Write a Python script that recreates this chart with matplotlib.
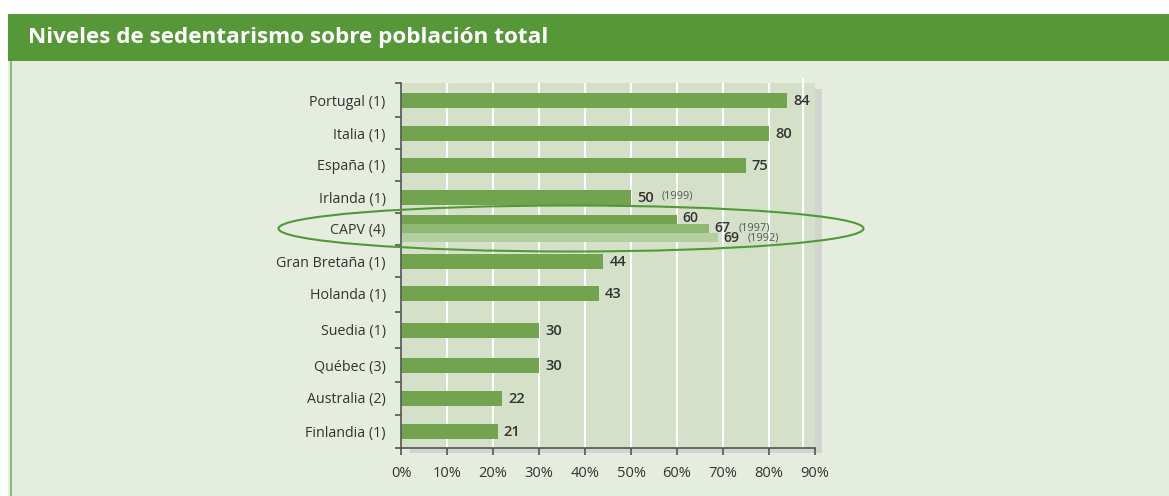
import matplotlib
matplotlib.use('Agg')
import matplotlib.pyplot as plt
from matplotlib.patches import Ellipse, Rectangle
import numpy as np

plt.rcParams['font.family'] = ['Open Sans', 'DejaVu Sans']

# ---------------- data ----------------
categories = ['Portugal (1)', 'Italia (1)', 'España (1)', 'Irlanda (1)', 'CAPV (4)',
              'Gran Bretaña (1)', 'Holanda (1)', 'Suedia (1)', 'Québec (3)',
              'Australia (2)', 'Finlandia (1)']
values = [84, 80, 75, 50, None, 44, 43, 30, 30, 22, 21]
notes = ['', '', '', '(1999)', '', '', '', '', '', '', '']
capv_values = [60, 67, 69]
capv_notes = ['', '(1997)', '(1992)']
xticks = [0, 10, 20, 30, 40, 50, 60, 70, 80, 90]
xticklabels = ['0%', '10%', '20%', '30%', '40%', '50%', '60%', '70%', '80%', '90%']

# ---------------- layout (pixel-based vertical scale) ----------------
W, H = 1169, 496
centers = [100, 133, 165, 197, 228.5, 261, 293, 330, 365, 398, 431]
y_top, y_bot = 83, 448
ax_left_px, ax_right_px = 401, 815

c_header = '#569838'
c_panel = '#e5eddf'
c_plot = '#d4e1c8'
c_bar = '#72a44f'
c_bar2 = '#90b872'
c_bar3 = '#b3cea0'
c_text = '#333333'
c_note = '#555555'
c_spine = '#555555'

fig = plt.figure(figsize=(W / 100, H / 100), dpi=100)
fig.patch.set_facecolor('white')

def fx(px):
    return px / W

def fy(py):
    return 1 - py / H

# header band
fig.patches.append(Rectangle((fx(8), fy(61)), fx(W - 8), (61 - 14) / H,
                             transform=fig.transFigure, facecolor=c_header,
                             edgecolor='none', zorder=0))
# panel
fig.patches.append(Rectangle((fx(8), 0), fx(W - 8), fy(61),
                             transform=fig.transFigure, facecolor=c_panel,
                             edgecolor='none', zorder=0))
# left green border line of panel
fig.patches.append(Rectangle((fx(10), 0), fx(2), fy(61),
                             transform=fig.transFigure, facecolor='#8dbb72',
                             edgecolor='none', zorder=0))
# shadow
fig.patches.append(Rectangle((fx(410), fy(453)), fx(822 - 410), (453 - 89) / H,
                             transform=fig.transFigure, facecolor='#d2d4cf',
                             edgecolor='none', zorder=0))

fig.text(fx(28), fy(37.5), 'Niveles de sedentarismo sobre población total',
         color='white', fontsize=16.2, fontweight='bold', va='center', ha='left')

ax = fig.add_axes([fx(ax_left_px), fy(y_bot), fx(ax_right_px - ax_left_px),
                   (y_bot - y_top) / H])
ax.set_zorder(3)
ax.set_facecolor(c_plot)
ax.set_xlim(0, 90)
ax.set_ylim(y_bot, y_top)

# grid lines
for g in xticks[1:-1]:
    ax.axvline(g, color='white', lw=1.5, zorder=1)
ax.plot([87.3, 87.3], [y_bot, y_top - 4], color='white', lw=1.5, zorder=1,
        clip_on=False)

bar_h = 15
lab_kw = dict(ha='left', va='center', fontsize=10.5, fontweight='semibold', color=c_text)
note_kw = dict(ha='left', va='center', fontsize=7.8, color=c_note)
for i, (cat, v, n) in enumerate(zip(categories, values, notes)):
    yc = centers[i]
    if v is None:
        continue
    ax.barh(yc, v, height=bar_h, color=c_bar, zorder=2)
    ax.annotate(str(v), (v, yc), xytext=(6, -1), textcoords='offset pixels', **lab_kw)
    if n:
        ax.annotate(n, (v, yc), xytext=(31, 1), textcoords='offset pixels', **note_kw)

# CAPV group
ci = categories.index('CAPV (4)')
sub_offsets = [-9, 0, 9]
sub_colors = [c_bar, c_bar2, c_bar3]
lab_dy = [1, 1, -0.5]
capv_kw = dict(lab_kw, fontsize=10)
for v, n, off, col, dy in zip(capv_values, capv_notes, sub_offsets, sub_colors, lab_dy):
    yc = centers[ci] + off
    ax.barh(yc, v, height=9, color=col, zorder=2)
    ax.annotate(str(v), (v, yc), xytext=(5, dy), textcoords='offset pixels', **capv_kw)
    if n:
        ax.annotate(n, (v, yc), xytext=(29, dy), textcoords='offset pixels', **note_kw)

# ellipse highlight
ell = Ellipse(((571 - ax_left_px) / (ax_right_px - ax_left_px) * 90, centers[ci]),
              width=585 / (ax_right_px - ax_left_px) * 90, height=46,
              facecolor='none', edgecolor='#4f9a36', lw=1.5, zorder=5, clip_on=False)
ax.add_patch(ell)

# axes styling
for s in ['top', 'right']:
    ax.spines[s].set_visible(False)
for s in ['left', 'bottom']:
    ax.spines[s].set_color(c_spine)
    ax.spines[s].set_linewidth(1.2)

ax.set_xticks(xticks)
ax.set_xticklabels(xticklabels)
ax.tick_params(axis='x', direction='out', length=5, width=1.2, color=c_spine,
               labelsize=10.5, labelcolor=c_text, pad=8)

ax.set_yticks(centers)
ax.set_yticklabels(categories)
ax.tick_params(axis='y', which='major', length=0, labelsize=10.3, labelcolor=c_text, pad=11)
bounds = [y_top] + [(centers[k] + centers[k + 1]) / 2 for k in range(len(centers) - 1)] + [y_bot]
ax.set_yticks(bounds, minor=True)
ax.tick_params(axis='y', which='minor', direction='out', length=4, width=1.2, color=c_spine)

fig.savefig('out.png', dpi=100, facecolor=fig.get_facecolor())
